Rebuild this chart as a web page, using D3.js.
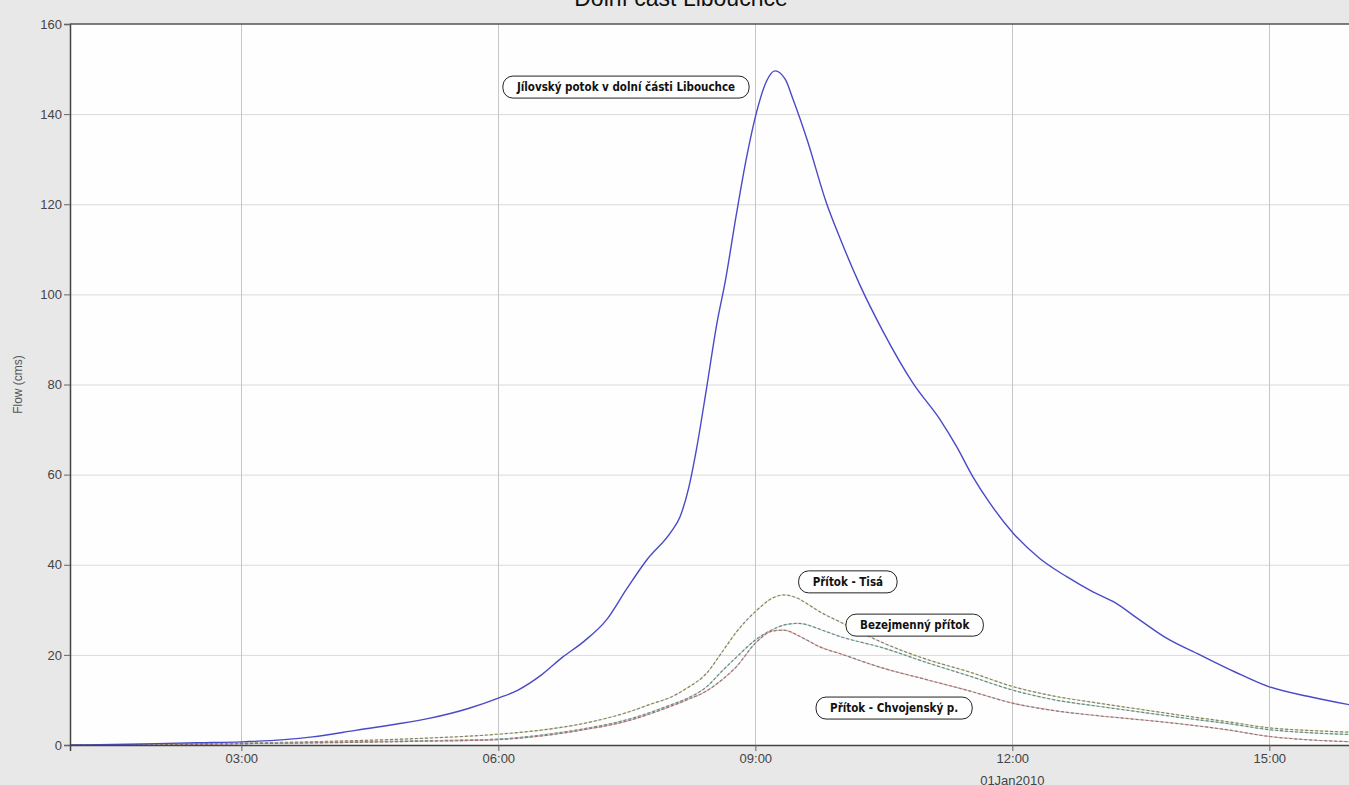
<!DOCTYPE html>
<html>
<head>
<meta charset="utf-8">
<script src="https://cdn.jsdelivr.net/npm/d3@7"></script>
<style>
  body { margin: 0; background: #e8e8e8; overflow: hidden; }
  svg { display: block; }
</style>
</head>
<body>
<script>
// main reach hydrograph
var mainHours = [1, 1.5, 2, 2.5, 3, 3.5, 3.83, 4.35, 4.8, 5.19, 5.65, 6, 6.23, 6.5, 6.75, 7, 7.26, 7.5, 7.73, 8.02, 8.12, 8.22, 8.32, 8.43, 8.55, 8.65, 8.78, 8.9, 9.01, 9.13, 9.23, 9.35, 9.44, 9.6, 9.83, 9.99, 10.22, 10.49, 10.84, 11.16, 11.35, 11.54, 11.74, 12.01, 12.32, 12.63, 12.94, 13.18, 13.49, 13.8, 14.19, 14.6, 15, 15.5, 16];
var mainFlow = [0, 0.1, 0.3, 0.5, 0.7, 1.2, 1.8, 3.3, 4.6, 5.9, 8.1, 10.4, 12.2, 15.5, 19.5, 23, 27.7, 34.7, 41, 47.4, 50.6, 56.9, 66.4, 79.1, 93.4, 103, 117.9, 130.6, 140.1, 147.3, 149.6, 147.7, 143.3, 134.6, 120.3, 112.4, 102.1, 91.8, 80.3, 72.1, 66.2, 59.5, 53.6, 47, 41.4, 37.4, 34, 31.8, 27.7, 23.7, 20, 16.2, 12.9, 10.6, 8.7];

// tributaries
var tribHours = [1, 2, 3, 4, 5, 6, 6.5, 7, 7.5, 7.8, 8, 8.2, 8.43, 8.6, 8.78, 9, 9.2, 9.33, 9.5, 9.6, 9.75, 10, 10.5, 11, 11.5, 12, 12.5, 13, 13.5, 14, 14.5, 15, 15.5, 16];
var tisaFlow = [0, 0.1, 0.4, 0.8, 1.4, 2.4, 3.3, 4.8, 7.2, 9.2, 10.5, 12.6, 15.9, 20.3, 25.1, 29.6, 32.6, 33.3, 32.5, 31.4, 29.6, 27.2, 22.6, 19, 16.2, 13, 10.8, 9.3, 7.9, 6.5, 5.2, 3.8, 3.2, 2.8];
var bezejmennyFlow = [0, 0.05, 0.3, 0.6, 0.9, 1.3, 2.2, 3.6, 5.6, 7.4, 8.8, 10.3, 12.9, 16.2, 19.5, 23.3, 25.6, 26.6, 27, 26.7, 25.7, 24, 21.5, 18.3, 15.3, 12.2, 10, 8.6, 7.3, 6, 4.8, 3.4, 2.7, 2.3];
var chvojenskyFlow = [0, 0.05, 0.3, 0.5, 0.8, 1.2, 2, 3.4, 5.3, 7.1, 8.5, 10, 12, 14.3, 17.4, 22.6, 25.3, 25.5, 24.3, 23.3, 21.8, 20.2, 17, 14.5, 12, 9.3, 7.6, 6.5, 5.6, 4.6, 3.4, 1.9, 1.1, 0.7];

// annotation labels (anchored in data units)
var labelTexts = ["Jílovský potok v dolní části Libouchce", "Přítok - Tisá", "Bezejmenný přítok", "Přítok - Chvojenský p."];
var labelHours = [7.49, 10.08, 10.86, 10.62];
var labelFlows = [146, 36.2, 26.6, 8.2];

var yTicks = [0, 20, 40, 60, 80, 100, 120, 140, 160];

var width = 1349, height = 785;
var margin = {left: 70, top: 24, bottom: 40};

function toDate(h) { return new Date(2010, 0, 1, 0, 0, 0, Math.round(h * 3600000)); }

var x = d3.scaleTime()
  .domain([toDate(1), toDate(16)])
  .range([margin.left, 1355]);

var y = d3.scaleLinear()
  .domain([0, 160])
  .range([height - margin.bottom, margin.top]);

var svg = d3.select("body").append("svg")
  .attr("width", width).attr("height", height);

svg.append("rect").attr("width", width).attr("height", height).attr("fill", "#e8e8e8");

svg.append("text")
  .attr("x", 681).attr("y", 6)
  .attr("text-anchor", "middle")
  .attr("font-family", "Liberation Sans, Arial, sans-serif")
  .attr("font-size", 23)
  .attr("fill", "#111")
  .text("Dolní část Libouchce");

svg.append("rect")
  .attr("x", x.range()[0]).attr("y", y(160))
  .attr("width", x.range()[1] - x.range()[0])
  .attr("height", y(0) - y(160))
  .attr("fill", "#fefefe");

var xTicks = x.ticks(d3.timeHour.every(3));

// grid
svg.append("g").selectAll("line.hg")
  .data(yTicks.slice(1, -1))
  .enter().append("line")
  .attr("x1", x.range()[0]).attr("x2", x.range()[1])
  .attr("y1", function(d) { return y(d) + 0.5; })
  .attr("y2", function(d) { return y(d) + 0.5; })
  .attr("stroke", "#dadada");

svg.append("g").selectAll("line.vg")
  .data(xTicks)
  .enter().append("line")
  .attr("x1", function(d) { return Math.round(x(d)) + 0.5; })
  .attr("x2", function(d) { return Math.round(x(d)) + 0.5; })
  .attr("y1", y(160)).attr("y2", y(0))
  .attr("stroke", "#c6c6c6");

// lines
function pts(hours, vals) {
  return hours.map(function(h, i) { return {t: toDate(h), v: vals[i]}; });
}
var line = d3.line()
  .x(function(d) { return x(d.t); })
  .y(function(d) { return y(d.v); })
  .curve(d3.curveMonotoneX);

var tribs = [
  {vals: tisaFlow, color: "#e6e6a8"},
  {vals: bezejmennyFlow, color: "#a8e4d4"},
  {vals: chvojenskyFlow, color: "#f2aaaa"}
];

tribs.forEach(function(s) {
  var d = pts(tribHours, s.vals);
  svg.append("path").datum(d)
    .attr("d", line).attr("fill", "none")
    .attr("stroke", s.color).attr("stroke-width", 1.1);
  svg.append("path").datum(d)
    .attr("d", line).attr("fill", "none")
    .attr("stroke", "#808080").attr("stroke-width", 1.2)
    .attr("stroke-dasharray", "3,2");
});

svg.append("path").datum(pts(mainHours, mainFlow))
  .attr("d", line).attr("fill", "none")
  .attr("stroke", "#4a4ac8").attr("stroke-width", 1.4);

// labels
var lab = svg.append("g").selectAll("g")
  .data(labelTexts)
  .enter().append("g")
  .attr("transform", function(d, i) {
    return "translate(" + x(toDate(labelHours[i])) + "," + y(labelFlows[i]) + ")";
  });

lab.append("rect").attr("class", "box");
lab.append("text")
  .attr("text-anchor", "middle")
  .attr("dy", "0.36em")
  .attr("font-family", "Liberation Sans Narrow, DejaVu Sans Condensed, Arial Narrow, sans-serif")
  .attr("font-weight", "bold")
  .attr("font-size", 11.5)
  .attr("fill", "#111")
  .text(function(d) { return d; });

lab.each(function() {
  var g = d3.select(this);
  var w = g.select("text").node().getComputedTextLength() + 28;
  g.select("rect")
    .attr("x", -w / 2).attr("y", -11)
    .attr("width", w).attr("height", 22)
    .attr("rx", 10).attr("ry", 10)
    .attr("fill", "#ffffff")
    .attr("stroke", "#222").attr("stroke-width", 1);
});

// axes
var yAxis = svg.append("g")
  .attr("transform", "translate(" + margin.left + ",0)")
  .call(d3.axisLeft(y).tickValues(yTicks).tickSize(6).tickPadding(2));
var xAxis = svg.append("g")
  .attr("transform", "translate(0," + y(0) + ")")
  .call(d3.axisBottom(x).tickValues(xTicks).tickFormat(d3.timeFormat("%H:%M")).tickSize(6).tickPadding(3));

[yAxis, xAxis].forEach(function(a) {
  a.select(".domain").attr("stroke", "#444").attr("stroke-width", 1.5);
  a.selectAll(".tick line").attr("stroke", "#666");
  a.selectAll(".tick text")
    .attr("font-family", "Liberation Sans, Arial, sans-serif")
    .attr("font-size", 13).attr("fill", "#444");
});

// top frame
svg.append("line")
  .attr("x1", x.range()[0]).attr("x2", width)
  .attr("y1", y(160)).attr("y2", y(160))
  .attr("stroke", "#555").attr("stroke-width", 1.5);

svg.append("text")
  .attr("x", x(toDate(12))).attr("y", 785)
  .attr("text-anchor", "middle")
  .attr("font-family", "Liberation Sans, Arial, sans-serif")
  .attr("font-size", 13).attr("fill", "#444")
  .text("01Jan2010");

svg.append("text")
  .attr("transform", "translate(22," + y(80) + ") rotate(-90)")
  .attr("text-anchor", "middle")
  .attr("font-family", "Liberation Sans, Arial, sans-serif")
  .attr("font-size", 12).attr("fill", "#555")
  .text("Flow (cms)");
</script>
</body>
</html>
